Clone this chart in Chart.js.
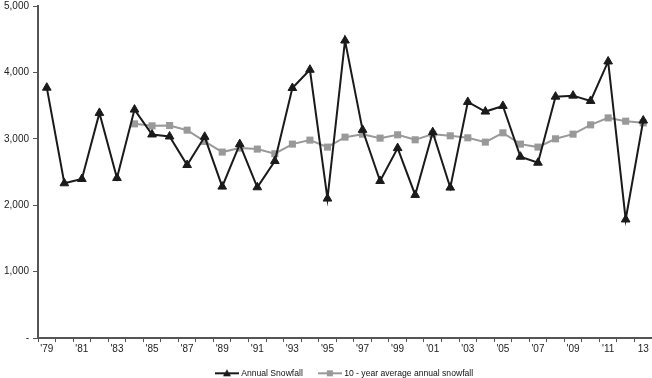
<!DOCTYPE html>
<html>
<head>
<meta charset="utf-8">
<script src="https://cdn.jsdelivr.net/npm/chart.js@4/dist/chart.umd.min.js"></script>
<style>
  html, body { margin: 0; padding: 0; background: #fff; }
  #wrap { width: 652px; height: 378px; }
</style>
</head>
<body>
<div id="wrap"><canvas id="chart"></canvas></div>
<script>
// years 1979 - 2013
var years = ["'79","'80","'81","'82","'83","'84","'85","'86","'87","'88","'89","'90","'91","'92","'93","'94","'95","'96","'97","'98","'99","'00","'01","'02","'03","'04","'05","'06","'07","'08","'09","'10","'11","'12","13"];
var annualSnowfall = [3770,2330,2395,3390,2410,3440,3065,3035,2605,3030,2280,2920,2270,2665,3765,4040,2100,4480,3135,2365,2860,2155,3100,2265,3555,3410,3495,2730,2640,3635,3650,3570,4165,1785,3275];
var tenYearAverage = [null,null,null,null,null,3225,3195,3200,3130,2960,2800,2860,2845,2775,2920,2980,2875,3025,3070,3010,3060,2985,3070,3045,3015,2950,3090,2920,2875,3000,3070,3210,3315,3265,3240];
var yTicks = [0,1000,2000,3000,4000,5000];

var axisColor = "#555555";
var fontFamily = "'Liberation Sans', Arial, Helvetica, sans-serif";

function legendIcon(color, style) {
    let c = document.createElement("canvas");
    c.width = 24;
    c.height = 10;
    let ctx = c.getContext("2d");
    ctx.strokeStyle = color;
    ctx.fillStyle = color;
    ctx.lineWidth = 2;
    ctx.beginPath();
    ctx.moveTo(0, 5);
    ctx.lineTo(24, 5);
    ctx.stroke();
    ctx.beginPath();
    if (style == "triangle") {
        ctx.moveTo(12, 1);
        ctx.lineTo(16, 8);
        ctx.lineTo(8, 8);
        ctx.closePath();
    } else {
        ctx.rect(9, 2, 6, 6);
    }
    ctx.fill();
    return c;
}

var icons = [legendIcon("#1a1a1a", "triangle"), legendIcon("#999999", "rect")];

new Chart(document.getElementById("chart"), {
    type: 'line',
    data: {
        labels: years,
        datasets: [
            {
                label: "Annual Snowfall",
                data: annualSnowfall,
                borderColor: "#1a1a1a",
                backgroundColor: "#1a1a1a",
                borderWidth: 2,
                pointStyle: 'triangle',
                pointRadius: 5,
                pointBorderWidth: 1,
                tension: 0
            },
            {
                label: "10 - year average annual snowfall",
                data: tenYearAverage,
                borderColor: "#999999",
                backgroundColor: "#999999",
                borderWidth: 2,
                pointStyle: 'rect',
                pointRadius: 5,
                pointBorderWidth: 0,
                tension: 0
            }
        ]
    },
    options: {
        responsive: true,
        maintainAspectRatio: false,
        animation: false,
        layout: {
            autoPadding: false,
            padding: { top: 6, right: 0, left: 0, bottom: 0 }
        },
        plugins: {
            legend: {
                position: 'bottom',
                fullSize: false,
                maxHeight: 26,
                labels: {
                    usePointStyle: true,
                    pointStyleWidth: 20,
                    padding: 17,
                    color: "#111",
                    font: { family: fontFamily, size: 8.6 },
                    generateLabels: function (chart) {
                        let items = Chart.defaults.plugins.legend.labels.generateLabels(chart);
                        items.forEach(function (item, i) {
                            item.pointStyle = icons[i];
                        });
                        return items;
                    }
                }
            },
            tooltip: { enabled: false }
        },
        scales: {
            x: {
                offset: true,
                afterFit: function (axis) {
                    axis.height = 14;
                    axis.paddingLeft = 0;
                    axis.paddingRight = 0;
                },
                grid: {
                    offset: true,
                    drawOnChartArea: false,
                    color: axisColor,
                    tickLength: 4,
                    tickWidth: 1
                },
                border: { color: axisColor, width: 2 },
                ticks: {
                    autoSkip: false,
                    maxRotation: 0,
                    padding: 1,
                    color: "#222",
                    font: { family: fontFamily, size: 10 },
                    callback: function (value, index) {
                        return index % 2 == 0 ? years[index] : '';
                    }
                }
            },
            y: {
                min: 0,
                max: 5000,
                afterBuildTicks: function (axis) {
                    axis.ticks = yTicks.map(function (v) { return { value: v }; });
                },
                afterFit: function (axis) {
                    axis.paddingTop = 0;
                    axis.paddingBottom = 0;
                },
                grid: {
                    drawOnChartArea: false,
                    color: axisColor,
                    tickLength: 5,
                    tickWidth: 1
                },
                border: { color: axisColor, width: 2 },
                ticks: {
                    padding: 4,
                    color: "#222",
                    font: { family: fontFamily, size: 10 },
                    callback: function (value) {
                        return value == 0 ? '-' : value.toLocaleString('en-US');
                    }
                }
            }
        }
    }
});
</script>
</body>
</html>
